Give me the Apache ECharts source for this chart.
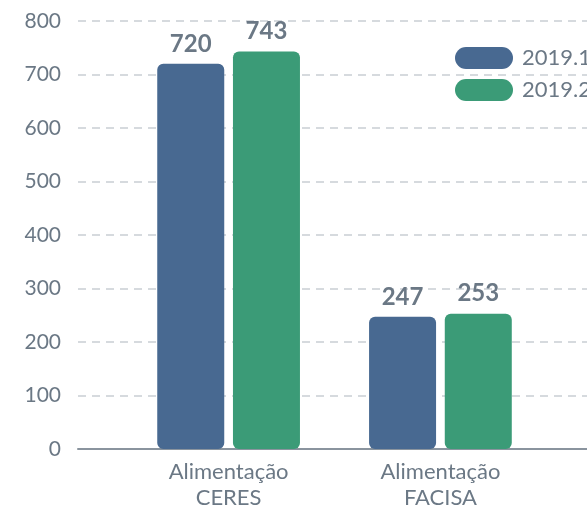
<!DOCTYPE html>
<html lang="pt">
<head>
    <meta charset="UTF-8">
    <title>Alimentação</title>
    <style>
        html, body { margin: 0; padding: 0; background: #fff; }
        #chart { width: 587px; height: 511px; }
    </style>
</head>
<body>
    <div id="chart"></div>
    <script src="https://cdn.jsdelivr.net/npm/echarts@6/dist/echarts.min.js"></script>
    <script>
        // dados
        var categories = ['Alimentação\nCERES', 'Alimentação\nFACISA'];
        var seriesNames = ['2019.1', '2019.2'];
        var values2019_1 = [720, 247];
        var values2019_2 = [743, 253];
        var yTicks = [0, 100, 200, 300, 400, 500, 600, 700, 800];

        var colors = ['#486991', '#3b9b77'];
        var textColor = '#6b7885';

        // eixo x numérico para posicionar as categorias como no original
        var toPoints = function (vals) {
            var out = [];
            for (var i = 0; i < vals.length; i++) {
                out.push([i, vals[i]]);
            }
            return out;
        };

        var pill = 'path://M11,0 H47 A11,11 0 0 1 47,22 H11 A11,11 0 0 1 11,0 Z';

        var myChart = echarts.init(document.getElementById('chart'));

        var barLabel = {
            show: true,
            position: 'top',
            distance: 8,
            color: textColor,
            fontFamily: 'Lato',
            fontWeight: 'bold',
            fontSize: 24
        };

        var option = {
            textStyle: { fontFamily: 'Lato' },
            animation: false,
            grid: {
                left: 78,
                right: 0,
                top: 21,
                bottom: 57
            },
            legend: {
                orient: 'vertical',
                left: 450,
                top: 42,
                itemWidth: 58,
                itemHeight: 22,
                itemGap: 10,
                icon: pill,
                textStyle: {
                    color: textColor,
                    fontSize: 22,
                    fontFamily: 'Lato',
                    padding: [0, 0, 0, 4]
                },
                data: seriesNames
            },
            xAxis: {
                type: 'value',
                min: -0.711,
                max: 1.692,
                splitLine: { show: false },
                axisTick: { show: false },
                axisLine: {
                    show: true,
                    lineStyle: { color: '#8a949e', width: 2 }
                },
                axisLabel: {
                    customValues: [0, 1],
                    formatter: function (v) {
                        return categories[Math.round(v)];
                    },
                    color: textColor,
                    fontSize: 22,
                    lineHeight: 26,
                    margin: 10,
                    fontFamily: 'Lato'
                }
            },
            yAxis: {
                type: 'value',
                min: yTicks[0],
                max: yTicks[yTicks.length - 1],
                interval: 100,
                axisLine: { show: false },
                axisTick: { show: false },
                axisLabel: {
                    color: textColor,
                    fontSize: 21,
                    margin: 17,
                    fontFamily: 'Lato'
                },
                splitLine: {
                    lineStyle: {
                        color: '#d6dade',
                        width: 2,
                        type: [8, 6]
                    }
                }
            },
            series: [{
                name: seriesNames[0],
                type: 'bar',
                barWidth: 67,
                barGap: '13%',
                data: toPoints(values2019_1),
                itemStyle: { color: colors[0], borderRadius: 6 },
                label: barLabel
            }, {
                name: seriesNames[1],
                type: 'bar',
                barWidth: 67,
                barGap: '13%',
                data: toPoints(values2019_2),
                itemStyle: { color: colors[1], borderRadius: 6 },
                label: barLabel
            }]
        };

        myChart.setOption(option);
    </script>
</body>
</html>
